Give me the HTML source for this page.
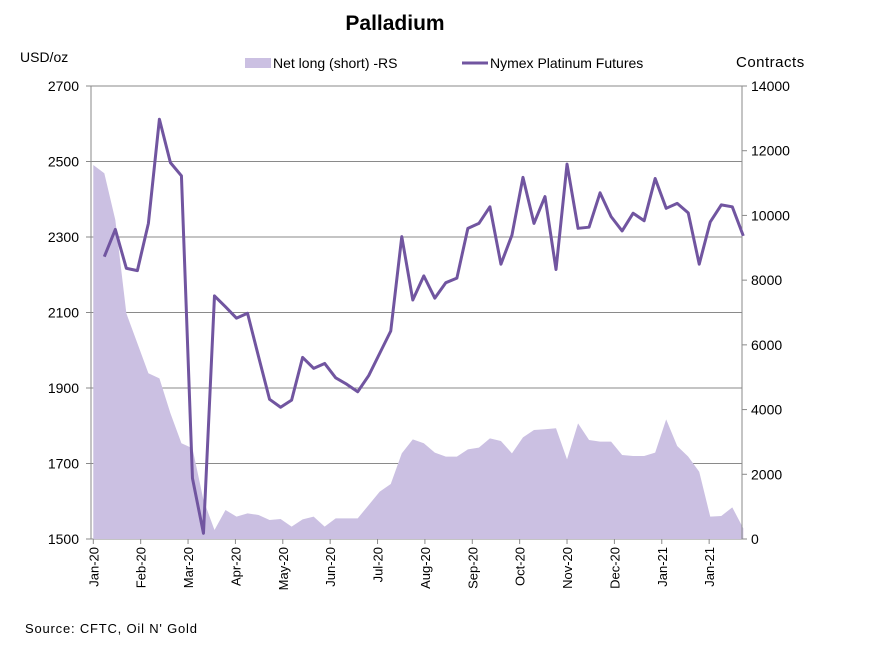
<!DOCTYPE html>
<html><head><meta charset="utf-8"><style>
body{margin:0;background:#fff;font-family:"Liberation Sans",sans-serif}
svg text{font-family:"Liberation Sans",sans-serif}
</style></head><body>
<svg id="chart" width="873" height="644" viewBox="0 0 873 644" xmlns="http://www.w3.org/2000/svg">
<text x="395" y="30" text-anchor="middle" font-size="21" font-weight="bold">Palladium</text>
<text x="20" y="62" font-size="14">USD/oz</text>
<text x="736" y="67" font-size="15" letter-spacing="0.5">Contracts</text>
<g>
<rect x="245" y="58" width="26" height="10" fill="#cbc0e2"/>
<text x="273" y="68" font-size="14">Net long (short) -RS</text>
<line x1="462" y1="63" x2="488" y2="63" stroke="#7155a0" stroke-width="3"/>
<text x="490" y="68" font-size="14">Nymex Platinum Futures</text>
</g>
<g id="grid"></g>
<path id="area" fill="#cbc0e2"/>
<g id="axes"></g>
<path id="line" fill="none" stroke="#7155a0" stroke-width="3" stroke-linejoin="round"/>
<text x="25" y="633" font-size="13" letter-spacing="0.8">Source: CFTC, Oil N' Gold</text>
</svg>
<script>
const netLong=[11559,11302,9859,6975,6048,5121,4966,3885,2958,2803,1205,278,896,690,793,742,587,618,381,608,690,381,639,639,639,1051,1463,1700,2648,3080,2958,2668,2544,2544,2771,2823,3111,3029,2648,3142,3369,3390,3421,2462,3575,3060,3008,3008,2596,2565,2565,2668,3698,2874,2544,2080,690,711,978,330];
const futures=[null,2248,2320,2217,2211,2336,2612,2497,2462,1661,1515,2144,2115,2085,2098,1983,1870,1849,1868,1981,1952,1965,1927,1910,1890,1933,1992,2051,2301,2133,2197,2138,2179,2191,2323,2336,2380,2228,2305,2458,2336,2407,2214,2493,2323,2326,2417,2354,2316,2363,2343,2455,2376,2389,2364,2228,2340,2385,2380,2303];
const leftTicks=[1500,1700,1900,2100,2300,2500,2700];
const rightTicks=[0,2000,4000,6000,8000,10000,12000,14000];
const monthLabels=["Jan-20","Feb-20","Mar-20","Apr-20","May-20","Jun-20","Jul-20","Aug-20","Sep-20","Oct-20","Nov-20","Dec-20","Jan-21","Jan-21"];
const NS="http://www.w3.org/2000/svg";
const X0=93.3,X1=743.3,L=91,R=742,T=86,B=539;
const n=netLong.length;
const xs=i=>X0+i*(X1-X0)/(n-1);
const yl=v=>B-(v-1500)/1200*(B-T);
const yr=v=>B-v/14000*(B-T);
function mk(tag,attrs,parent){const e=document.createElementNS(NS,tag);for(const k in attrs)e.setAttribute(k,attrs[k]);parent.appendChild(e);return e;}
const grid=document.getElementById('grid'),axes=document.getElementById('axes');
leftTicks.forEach(v=>{
 const g=mk('line',{x1:L,x2:R,y1:yl(v),y2:yl(v),stroke:'#8a8a8a','stroke-width':1},grid);
 
 
 const t=mk('text',{x:79,y:yl(v)+5,'text-anchor':'end','font-size':14},axes);
 t.textContent=v;
 
 
 const tk=mk('line',{x1:L-5,x2:L,y1:yl(v),y2:yl(v),stroke:'#8a8a8a'},axes);
 
 
});
rightTicks.forEach(v=>{
 const t=mk('text',{x:751,y:yr(v)+5,'font-size':14},axes);
 t.textContent=v;
 
 
 const tk=mk('line',{x1:R,x2:R+5,y1:yr(v),y2:yr(v),stroke:'#8a8a8a'},axes);
 
 
});
const al=mk('line',{x1:L,x2:L,y1:T,y2:B,stroke:'#8a8a8a'},axes);


const ar=mk('line',{x1:R,x2:R,y1:T,y2:B,stroke:'#8a8a8a'},axes);


monthLabels.forEach((m,k)=>{
 const x=X0+k*4.3*(X1-X0)/(n-1);
 const tk=mk('line',{x1:x,x2:x,y1:B,y2:B+5,stroke:'#8a8a8a'},axes);
 
 
 const t=mk('text',{x:0,y:0,'text-anchor':'end','font-size':13,transform:`translate(${x+5},${B+8}) rotate(-90)`},axes);
 t.textContent=m;
 
 
});
let d=`M${xs(0)},${B}`;
netLong.forEach((v,i)=>{d+=` L${xs(i)},${yr(v)}`});
d+=` L${xs(n-1)},${B} Z`;
document.getElementById('area').setAttribute('d',d);
let ld='';
futures.forEach((v,i)=>{if(v==null)return;ld+=(ld?' L':'M')+xs(i)+','+yl(v)});
document.getElementById('line').setAttribute('d',ld);
</script>
</body></html>
